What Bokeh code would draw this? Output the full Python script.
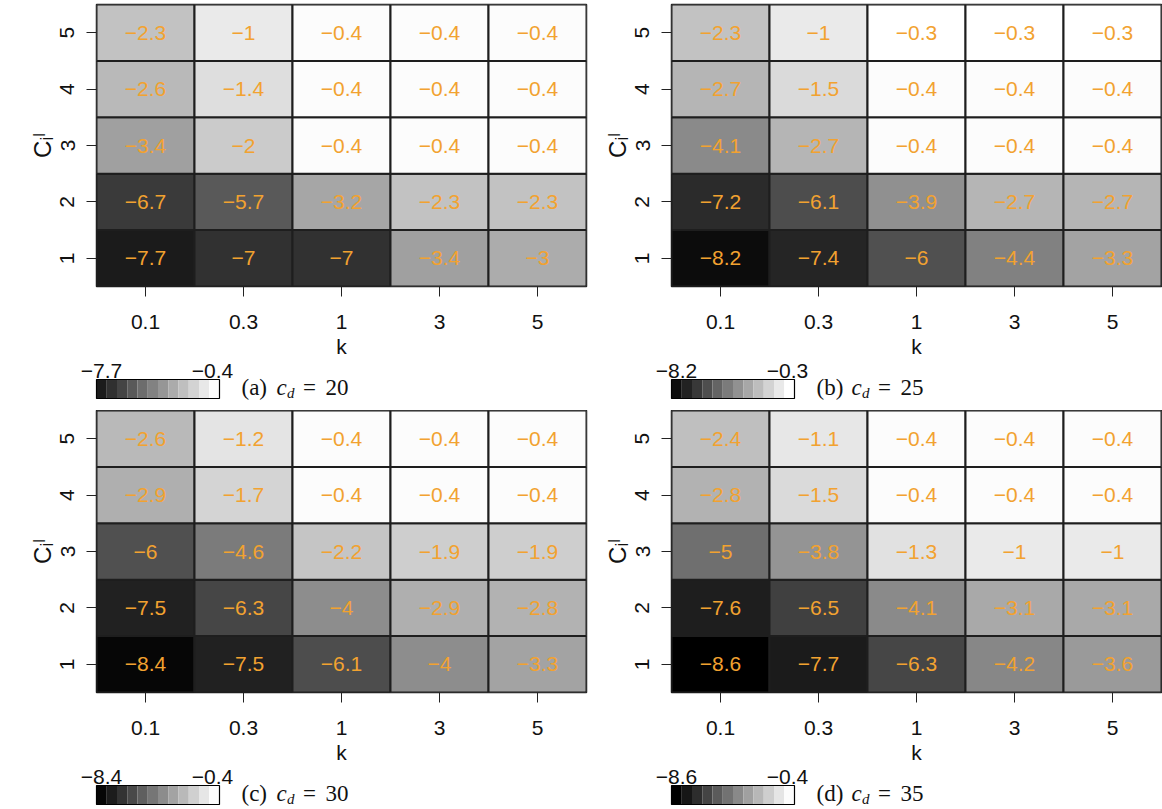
import numpy as np
from bokeh.plotting import figure
from bokeh.layouts import column, row
from bokeh.models import ColumnDataSource, FactorRange, Range1d, LinearColorMapper
from bokeh.transform import transform
from bokeh.core.properties import value
from bokeh.embed import file_html
from bokeh.resources import INLINE

# ---------------- data ----------------
k_labels = ["0.1", "0.3", "1", "3", "5"]
c_labels = ["1", "2", "3", "4", "5"]
panel_letters = ["a", "b", "c", "d"]
cd_values = [20, 25, 30, 35]

# rows: C = 1..5 ; columns: k = 0.1, 0.3, 1, 3, 5
vals_a = [[-7.7, -7.0, -7.0, -3.4, -3.0],
          [-6.7, -5.7, -3.2, -2.3, -2.3],
          [-3.4, -2.0, -0.4, -0.4, -0.4],
          [-2.6, -1.4, -0.4, -0.4, -0.4],
          [-2.3, -1.0, -0.4, -0.4, -0.4]]
vals_b = [[-8.2, -7.4, -6.0, -4.4, -3.3],
          [-7.2, -6.1, -3.9, -2.7, -2.7],
          [-4.1, -2.7, -0.4, -0.4, -0.4],
          [-2.7, -1.5, -0.4, -0.4, -0.4],
          [-2.3, -1.0, -0.3, -0.3, -0.3]]
vals_c = [[-8.4, -7.5, -6.1, -4.0, -3.3],
          [-7.5, -6.3, -4.0, -2.9, -2.8],
          [-6.0, -4.6, -2.2, -1.9, -1.9],
          [-2.9, -1.7, -0.4, -0.4, -0.4],
          [-2.6, -1.2, -0.4, -0.4, -0.4]]
vals_d = [[-8.6, -7.7, -6.3, -4.2, -3.6],
          [-7.6, -6.5, -4.1, -3.1, -3.1],
          [-5.0, -3.8, -1.3, -1.0, -1.0],
          [-2.8, -1.5, -0.4, -0.4, -0.4],
          [-2.4, -1.1, -0.4, -0.4, -0.4]]
panels = [vals_a, vals_b, vals_c, vals_d]

# ---------------- style / layout ----------------
SANS = "Liberation Sans"
SERIF = "Liberation Serif"
TXT_ORANGE = "#F2A230"
INK = "#111111"
EDGE = "#1e1e1e"
FRAME_H = 282
FRAME_W = 490
BOTTOM = 74
N_STEPS = 12
BAR_W = 123
BAR_H = 19

greys = ["#%02x%02x%02x" % (v, v, v) for v in range(256)]
all_vals = np.array(panels, dtype=float)
mapper = LinearColorMapper(palette=greys, low=all_vals.min(), high=all_vals.max())


def fmt(v):
    return ("%g" % v).replace("-", "\u2212")


def heat_fig(vals, left, right, top):
    xs, ys, vs, ts = [], [], [], []
    for i, c in enumerate(c_labels):
        for j, k in enumerate(k_labels):
            xs.append(k)
            ys.append(c)
            vs.append(vals[i][j])
            ts.append(fmt(vals[i][j]))
    src = ColumnDataSource(dict(k=xs, c=ys, v=vs, t=ts))
    p = figure(x_range=FactorRange(factors=k_labels), y_range=FactorRange(factors=c_labels),
               width=left + FRAME_W + right, height=top + FRAME_H + BOTTOM,
               min_border_left=left, min_border_right=right, min_border_top=top,
               min_border_bottom=BOTTOM, output_backend="svg", toolbar_location=None,
               x_axis_label="k", y_axis_label="C\u1d62\u02e1")
    p.rect(x="k", y="c", width=1, height=1, source=src,
           fill_color=transform("v", mapper), line_color=EDGE, line_width=2)
    p.text(x="k", y="c", text="t", source=src, text_align="center", text_baseline="middle",
           text_font=value(SANS), text_font_size="21px", text_color=TXT_ORANGE)
    p.grid.visible = False
    p.outline_line_color = EDGE
    p.outline_line_width = 1.5
    for ax in (p.xaxis, p.yaxis):
        ax.axis_line_color = None
        ax.major_tick_in = 0
        ax.major_tick_out = 10
        ax.major_tick_line_color = "#222222"
        ax.major_label_text_font = SANS
        ax.major_label_text_font_size = "21px"
        ax.major_label_text_color = INK
        ax.axis_label_text_font = SANS
        ax.axis_label_text_font_style = "normal"
        ax.axis_label_text_color = INK
    p.xaxis.axis_label_text_font_size = "21px"
    p.yaxis.axis_label_text_font_size = "24px"
    p.xaxis.major_label_standoff = 18
    p.xaxis.axis_label_standoff = 3
    p.yaxis.major_label_orientation = "vertical"
    p.yaxis.major_label_standoff = 12
    p.yaxis.axis_label_standoff = 2
    return p


def legend_fig(vals, letter, cd, left, right, h):
    # x = 0 at the heat-map frame's left edge, 1 unit = 1 px
    q = figure(width=left + FRAME_W + right, height=h,
               x_range=Range1d(-left, FRAME_W + right), y_range=Range1d(h, 0),
               min_border=0, min_border_left=0, min_border_right=0, min_border_top=0,
               min_border_bottom=0, x_axis_location=None, y_axis_location=None,
               output_backend="svg", toolbar_location=None)
    q.grid.visible = False
    q.outline_line_color = None
    vmin, vmax = float(np.min(vals)), float(np.max(vals))
    bw = BAR_W / N_STEPS
    steps = np.linspace(vmin, vmax, N_STEPS)
    bar_top = 19
    by = bar_top + BAR_H / 2
    src = ColumnDataSource(dict(x=(np.arange(N_STEPS) + 0.5) * bw, y=[by] * N_STEPS, v=steps))
    q.rect(x="x", y="y", width=bw, height=BAR_H, source=src,
           fill_color=transform("v", mapper), line_color=None)
    q.rect(x=[BAR_W / 2], y=[by], width=BAR_W, height=BAR_H, fill_color=None,
           line_color="#000000", line_width=1.2)
    q.text(x=[5, BAR_W - 7], y=[10.5, 10.5], text=[fmt(vmin), fmt(vmax)], text_align="center",
           text_baseline="middle", text_font=value(SANS), text_font_size="21px",
           text_color=INK)
    cy = 27
    q.text(x=[145], y=[cy], text=["(%s)" % letter], text_align="left", text_baseline="middle",
           text_font=value(SERIF), text_font_size="23px", text_color=INK)
    q.text(x=[180], y=[cy], text=["c"], text_align="left", text_baseline="middle",
           text_font=value(SERIF), text_font_style="italic", text_font_size="23px",
           text_color=INK)
    q.text(x=[190.5], y=[cy + 5], text=["d"], text_align="left", text_baseline="middle",
           text_font=value(SERIF), text_font_style="italic", text_font_size="15px",
           text_color=INK)
    q.text(x=[213], y=[cy], text=["="], text_align="center", text_baseline="middle",
           text_font=value(SERIF), text_font_size="23px", text_color=INK)
    q.text(x=[229], y=[cy], text=[str(cd)], text_align="left", text_baseline="middle",
           text_font=value(SERIF), text_font_size="23px", text_color=INK)
    return q


LEFT = [96, 82, 96, 82]
RIGHT = [3, 1, 3, 1]
TOP = [4, 4, 0, 0]
LEG_H = [50, 50, 42, 42]

cols = []
for idx in range(4):
    hf = heat_fig(panels[idx], LEFT[idx], RIGHT[idx], TOP[idx])
    lf = legend_fig(panels[idx], panel_letters[idx], cd_values[idx], LEFT[idx], RIGHT[idx], LEG_H[idx])
    cols.append(column(hf, row(lf, spacing=0), spacing=0))

layout = column(row(cols[0], cols[1], spacing=0), row(cols[2], cols[3], spacing=0), spacing=0)

open("out.html", "w").write(file_html(layout, INLINE))
